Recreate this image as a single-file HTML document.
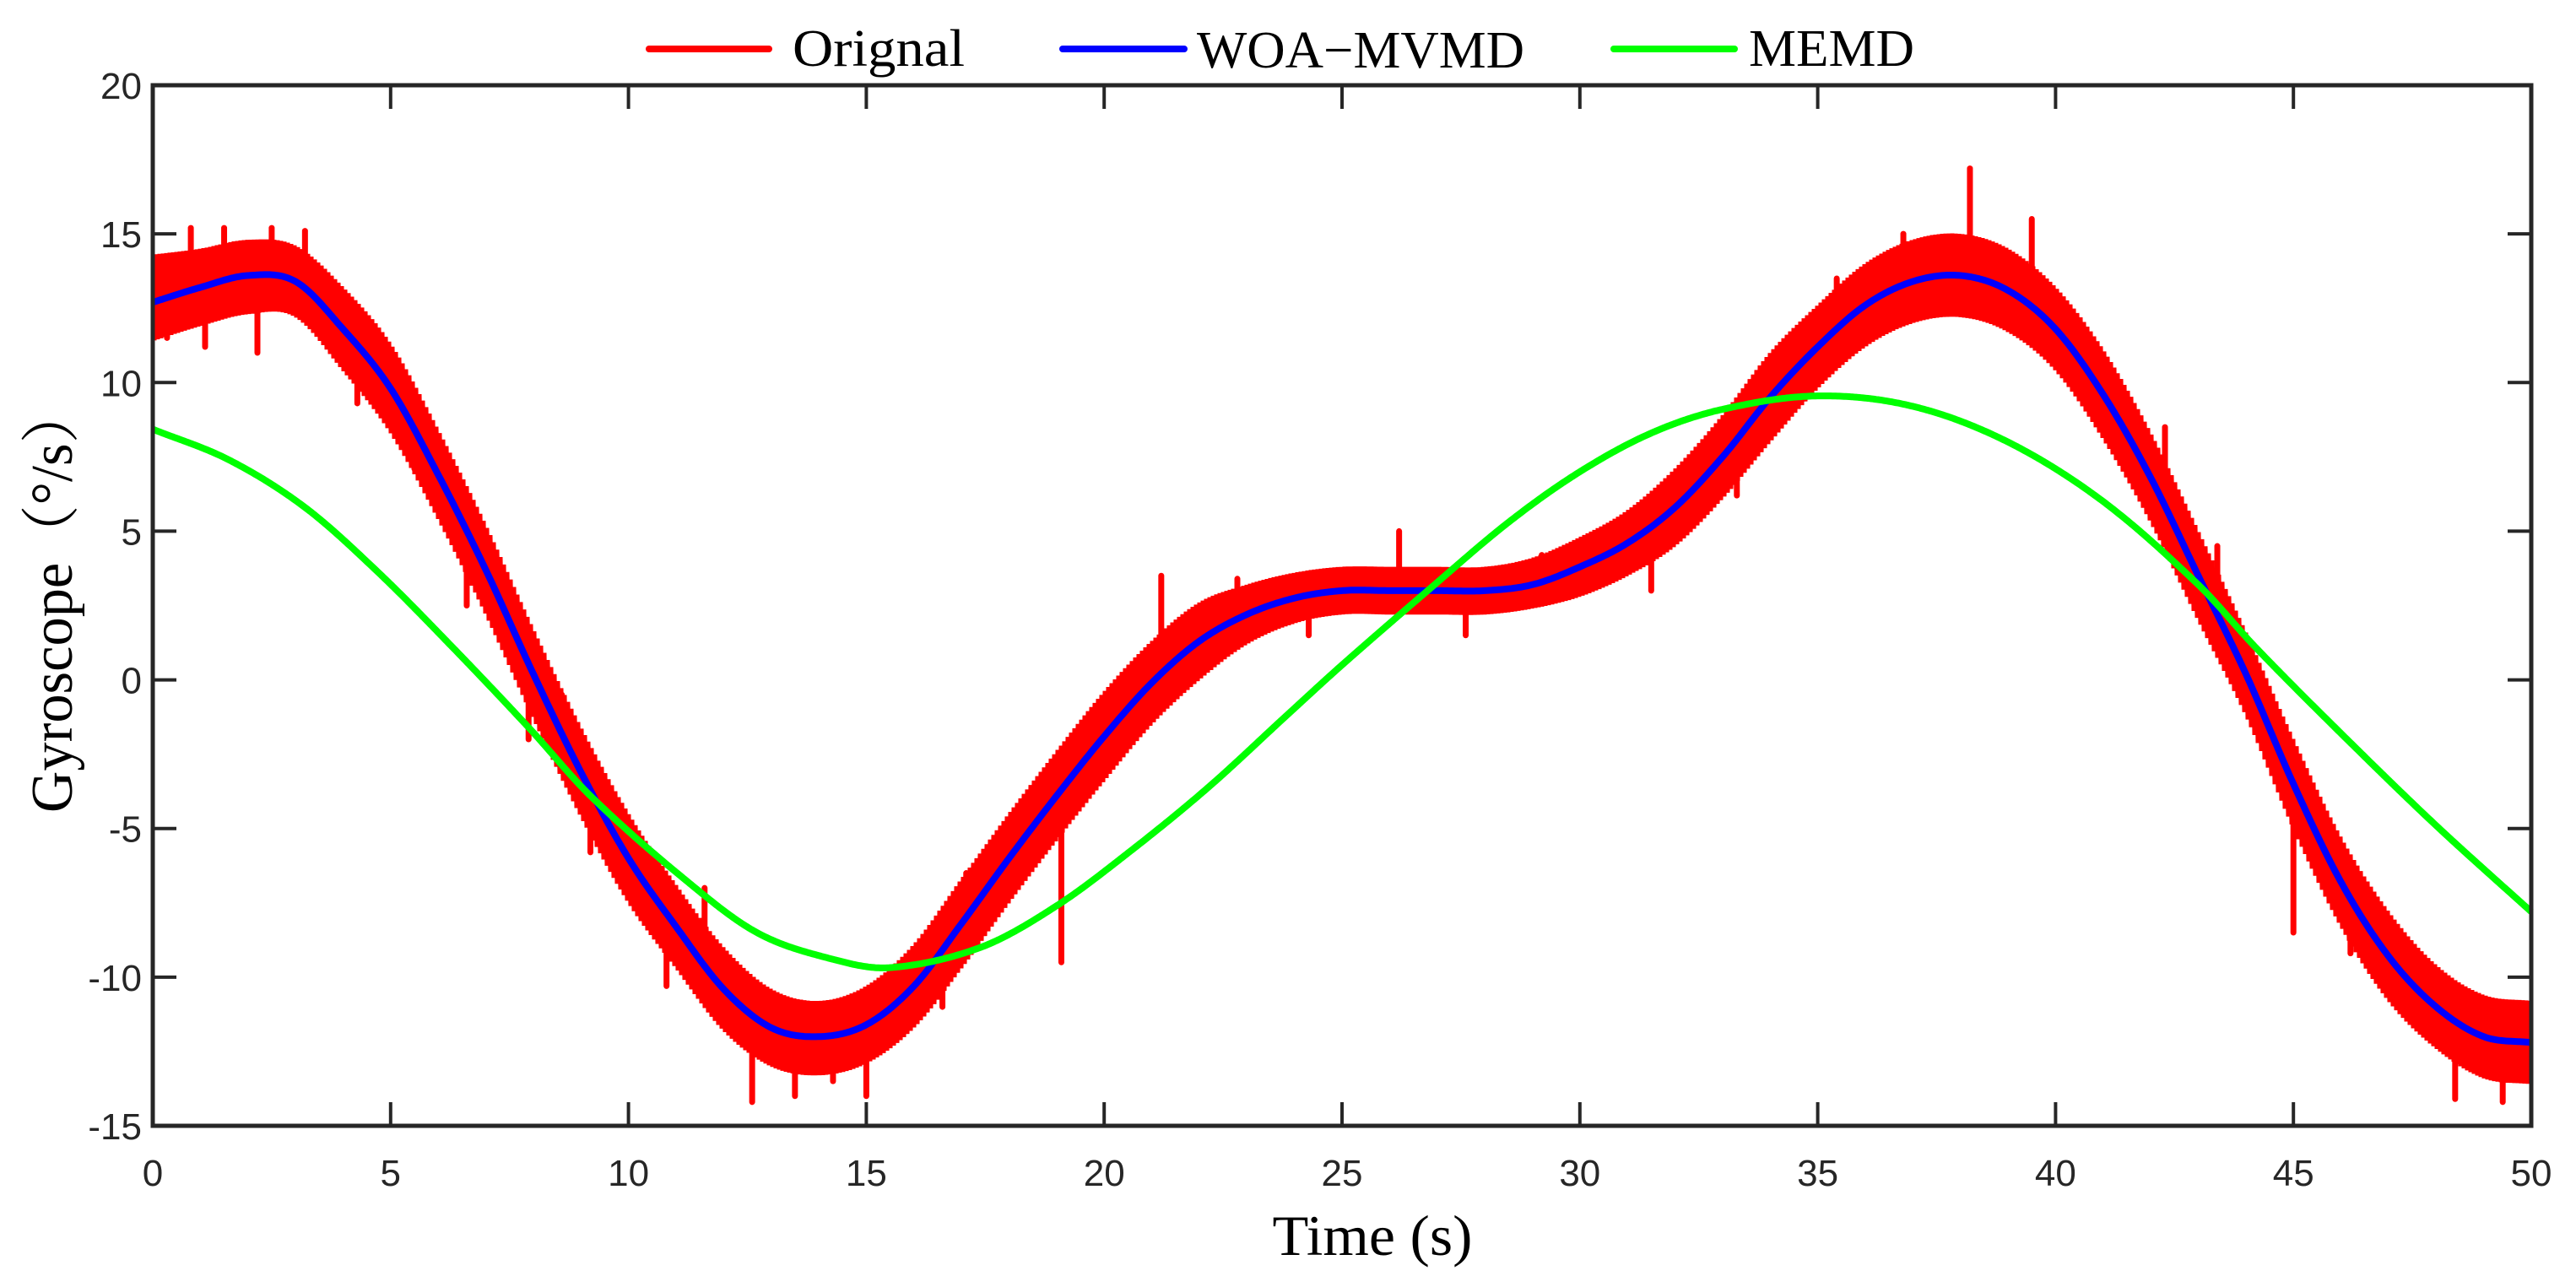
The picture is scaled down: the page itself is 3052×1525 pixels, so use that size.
<!DOCTYPE html>
<html><head><meta charset="utf-8"><style>html,body{margin:0;padding:0;background:#fff}svg{display:block}</style></head>
<body>
<svg id="chart" width="3052" height="1525" viewBox="0 0 3052 1525" xmlns="http://www.w3.org/2000/svg">
<g id="plot"></g>
<g id="axes"></g>
<g id="legend">
  <line x1="769" y1="58" x2="911" y2="58" stroke="#ff0000" stroke-width="8" stroke-linecap="round"/>
  <text x="939" y="78" font-family="Liberation Serif, serif" font-size="62" textLength="204" lengthAdjust="spacingAndGlyphs">Orignal</text>
  <line x1="1259" y1="58" x2="1403" y2="58" stroke="#0000ff" stroke-width="8" stroke-linecap="round"/>
  <text x="1418" y="80" font-family="Liberation Serif, serif" font-size="62" textLength="388" lengthAdjust="spacingAndGlyphs">WOA−MVMD</text>
  <line x1="1912" y1="58" x2="2055" y2="58" stroke="#00ff00" stroke-width="8" stroke-linecap="round"/>
  <text x="2072" y="78" font-family="Liberation Serif, serif" font-size="62" textLength="196" lengthAdjust="spacingAndGlyphs">MEMD</text>
</g>
<text x="1626" y="1487" text-anchor="middle" font-family="Liberation Serif, serif" font-size="68" textLength="237" lengthAdjust="spacingAndGlyphs">Time (s)</text>
<text transform="translate(85,710) rotate(-90)" text-anchor="middle" font-family="Liberation Serif, 'Noto Serif CJK SC', serif" font-size="70" textLength="506" lengthAdjust="spacingAndGlyphs">Gyroscope（°/s）</text>
</svg>
<script>
const xTicks = [0,5,10,15,20,25,30,35,40,45,50];
const yTicks = [20,15,10,5,0,-5,-10,-15];
const blueT = [0,1,2,3,4,5,6,7,8,9,10,11,12,13,14,15,16,17,18,19,20,21,22,23,24,25,26,27,28,29,30,31,32,33,34,35,36,37,38,39,40,41,42,43,44,45,46,47,48,49,50];
const blueV = [12.7,13.2,13.6,13.4,11.8,9.8,6.9,3.7,0.2,-3.1,-6.0,-8.3,-10.4,-11.7,-12.0,-11.6,-10.3,-8.2,-6.0,-3.9,-1.9,-0.1,1.3,2.2,2.75,3.0,3.0,3.0,3.0,3.2,3.8,4.6,5.8,7.5,9.5,11.2,12.6,13.4,13.6,13.1,11.8,9.6,6.8,3.5,0.2,-3.5,-6.8,-9.3,-11.0,-12.0,-12.2];
const redHi = [14.3,14.5,14.8,14.6,13.2,11.3,8.4,5.2,1.7,-1.6,-4.5,-6.9,-9.0,-10.4,-10.8,-10.3,-8.9,-6.7,-4.5,-2.4,-0.4,1.3,2.6,3.2,3.6,3.8,3.8,3.8,3.8,4.1,4.8,5.7,7.1,8.9,11.0,12.6,14.0,14.8,15.0,14.5,13.2,11.1,8.3,5.0,1.6,-2.0,-5.3,-7.8,-9.6,-10.6,-10.8];
const redLo = [11.4,11.9,12.3,12.2,10.4,8.3,5.4,2.2,-1.3,-4.6,-7.5,-9.7,-11.8,-13.0,-13.3,-12.9,-11.7,-9.7,-7.5,-5.4,-3.4,-1.5,0.0,1.2,1.9,2.2,2.2,2.2,2.2,2.4,2.8,3.5,4.5,6.1,8.0,9.8,11.2,12.0,12.2,11.7,10.4,8.1,5.3,2.0,-1.2,-5.0,-8.3,-10.8,-12.4,-13.4,-13.6];
const spikeT = [0.8,1.5,2.5,3.2,2.2,0.3,1.1,4.3,5.5,6.6,7.9,8.6,9.2,10.8,11.6,12.6,13.5,14.3,15.0,16.6,17.1,18.4,19.1,20.2,21.2,22.8,24.3,26.2,27.6,29.2,31.5,33.3,35.4,36.8,38.2,39.5,41.5,42.3,43.4,45.0,46.2,47.5,48.4,49.4];
const spikeV = [15.2,15.2,15.2,15.1,11.0,11.5,11.2,9.3,7.1,2.5,-2.0,-0.5,-5.8,-10.3,-7.0,-14.2,-14.0,-13.5,-14.0,-11.0,-6.5,-4.5,-9.5,-2.0,3.5,3.4,1.5,5.0,1.5,4.2,3.0,6.2,13.5,15.0,17.2,15.5,8.0,8.5,4.5,-8.5,-9.2,-10.0,-14.1,-14.2];
const memdT = [0,1.6,3.2,4.75,6.3,7.9,9.2,11.1,12.7,14.3,15.5,17.4,19,20.6,22.2,23.8,25,26.8,28.5,30,31.5,33,35,37,39,41,43,44.2,46,48,50];
const memdV = [8.43,7.4,5.8,3.6,1.1,-1.6,-3.9,-6.6,-8.5,-9.4,-9.68,-9.0,-7.6,-5.7,-3.6,-1.25,0.5,3.0,5.3,7.0,8.3,9.1,9.55,9.2,8.0,6.0,3.2,1.1,-1.8,-4.9,-7.8];

const L=181,R=2999,T=101,B=1334, xMin=0,xMax=50,yMin=-15,yMax=20;
const X=t=>L+(t-xMin)/(xMax-xMin)*(R-L);
const Y=v=>B-(v-yMin)/(yMax-yMin)*(B-T);
const NS='http://www.w3.org/2000/svg';
const plot=document.getElementById('plot'), axes=document.getElementById('axes');
function mk(tag,attrs,parent){const e=document.createElementNS(NS,tag);for(const k in attrs)e.setAttribute(k,attrs[k]);parent.appendChild(e);return e;}
function interp(ts,vs,t){for(let i=0;i<ts.length-1;i++){if(t<=ts[i+1]){const a=(t-ts[i])/(ts[i+1]-ts[i]);return vs[i]+a*(vs[i+1]-vs[i]);}}return vs[vs.length-1];}
function smooth(ts,vs,t){let i=0;while(i<ts.length-2&&t>ts[i+1])i++;
 const h=ts[i+1]-ts[i];
 const slope=j=>{if(j<=0)return (vs[1]-vs[0])/(ts[1]-ts[0]);if(j>=ts.length-1)return (vs[j]-vs[j-1])/(ts[j]-ts[j-1]);return (vs[j+1]-vs[j-1])/(ts[j+1]-ts[j-1]);};
 const m0=slope(i),m1=slope(i+1),u=(t-ts[i])/h;
 const h00=2*u*u*u-3*u*u+1,h10=u*u*u-2*u*u+u,h01=-2*u*u*u+3*u*u,h11=u*u*u-u*u;
 return h00*vs[i]+h10*h*m0+h01*vs[i+1]+h11*h*m1;}

let pts=[];let k=0;
for(let px=L;px<=R;px+=2){const t=(px-L)/(R-L)*50;const v=(k%2===0)?smooth(blueT,redHi,t):smooth(blueT,redLo,t);pts.push(px.toFixed(1)+','+Y(v).toFixed(1));k++;}
const red=mk('polyline',{points:pts.join(' '),fill:'none',stroke:'#ff0000','stroke-width':5,'stroke-linejoin':'miter'},plot);


spikeT.forEach((t,i)=>{const base=interp(blueT,blueV,t);const s=mk('line',{x1:X(t),y1:Y(base),x2:X(t),y2:Y(spikeV[i]),stroke:'#ff0000','stroke-width':7,'stroke-linecap':'round'},plot);

});

function curve(ts,vs){let p=[];for(let px=L;px<=R;px+=2){const t=(px-L)/(R-L)*50;p.push(px+','+Y(smooth(ts,vs,t)).toFixed(1));}return p.join(' ');}
const blue=mk('polyline',{points:curve(blueT,blueV),fill:'none',stroke:'#0000ff','stroke-width':8,'stroke-linejoin':'round'},plot);


const green=mk('polyline',{points:curve(memdT,memdV),fill:'none',stroke:'#00ff00','stroke-width':8,'stroke-linejoin':'round'},plot);



const frame=mk('rect',{x:L,y:T,width:R-L,height:B-T,fill:'none',stroke:'#262626','stroke-width':5},axes);


xTicks.forEach(t=>{const x=X(t);
 mk('line',{x1:x,y1:B,x2:x,y2:B-28,stroke:'#262626','stroke-width':4},axes);
 mk('line',{x1:x,y1:T,x2:x,y2:T+28,stroke:'#262626','stroke-width':4},axes);
 const tx=mk('text',{x:x,y:1405,'text-anchor':'middle','font-family':'Liberation Sans, sans-serif','font-size':44,fill:'#262626'},axes);tx.textContent=t;
 
 });
yTicks.forEach(v=>{const y=Y(v);
 mk('line',{x1:L,y1:y,x2:L+28,y2:y,stroke:'#262626','stroke-width':4},axes);
 mk('line',{x1:R,y1:y,x2:R-28,y2:y,stroke:'#262626','stroke-width':4},axes);
 const tx=mk('text',{x:168,y:y+16,'text-anchor':'end','font-family':'Liberation Sans, sans-serif','font-size':44,fill:'#262626'},axes);tx.textContent=v;
 
 });
</script>
</body></html>
